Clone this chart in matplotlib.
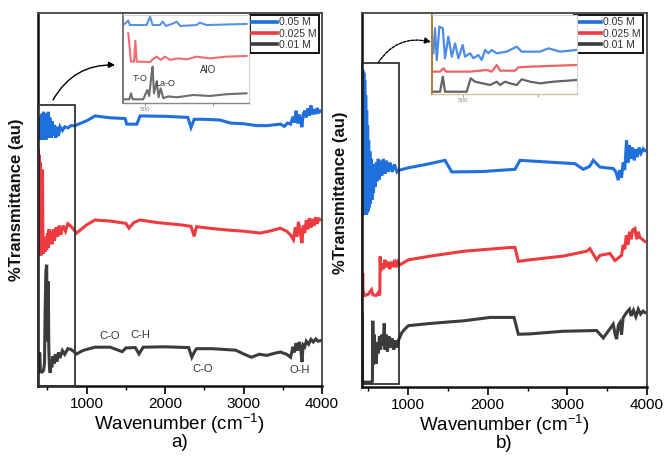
import matplotlib
matplotlib.use('Agg')
import matplotlib.pyplot as plt
from matplotlib.patches import Rectangle
from matplotlib.ticker import FixedLocator

plt.rcParams['font.family'] = ['Liberation Sans', 'DejaVu Sans']
plt.rcParams['mathtext.fontset'] = 'custom'
plt.rcParams['mathtext.rm'] = 'Liberation Sans'
plt.rcParams['mathtext.it'] = 'Liberation Sans:italic'
plt.rcParams['mathtext.bf'] = 'Liberation Sans:bold'

# ---------------- data ----------------
series_labels = ['0.05 M', '0.025 M', '0.01 M']
colors = ['#1f6fdd', '#ee3b3f', '#3c3c3c']
xticks_major = [1000, 2000, 3000, 4000]
xticks_minor = [500, 1500, 2500, 3500]
panel_letters = ['a)', 'b)']

# panel a
a_blue_x = [378, 390, 400, 410, 420, 430, 440, 450, 460, 470, 480, 490, 500, 510, 520, 530, 545, 560, 575, 590,
            605, 620, 640, 660, 690, 720, 760, 800, 850, 1000, 1106, 1300, 1490, 1510, 1640, 1680, 2000, 2290, 2330, 2370,
            2500, 2700, 2830, 3000, 3170, 3300, 3470, 3520, 3560, 3600, 3630, 3650, 3670, 3690, 3710, 3730, 3745, 3760, 3780, 3800,
            3820, 3840, 3860, 3880, 3900, 3920, 3940, 3960, 3990]
a_blue_t = [67, 72, 66, 71, 67, 73, 66, 73.5, 66.5, 73, 66, 72, 67, 73.5, 66.5, 72, 66.5, 71, 67, 70,
            66.5, 69.5, 67, 69.5, 68.5, 69.5, 69.2, 69.8, 69.8, 71.1, 72.4, 71.9, 71.7, 70.2, 70.2, 72.4, 72.3, 72.0, 69.3, 71.5,
            71.5, 71.3, 70.5, 70.3, 69.8, 69.8, 70.2, 69.6, 70.5, 70.2, 72.2, 70.6, 73.8, 70.4, 72.8, 70.5, 69.4, 72.8, 73.8, 72.0,
            74.4, 72.5, 75.2, 72.8, 74.2, 72.9, 74.5, 73.4, 73.8]
a_red_x = [378, 382, 388, 393, 398, 405, 412, 420, 430, 437, 443, 450, 460, 470, 480, 490, 500, 510, 520, 530,
           545, 560, 575, 590, 610, 630, 650, 670, 700, 730, 760, 800, 872, 1000, 1106, 1300, 1500, 1540, 1600, 1680,
           1900, 2200, 2330, 2370, 2400, 2600, 2800, 3000, 3211, 3350, 3466, 3550, 3600, 3636, 3660, 3680, 3700, 3720, 3745, 3760,
           3780, 3800, 3820, 3840, 3860, 3880, 3900, 3920, 3940, 3960, 3990]
a_red_t = [36, 63.5, 36, 62, 35.5, 60, 36, 35, 52, 58, 36, 35.5, 38, 36, 40, 36.5, 41, 37, 42, 38,
           41.5, 38, 42, 39, 42.5, 40, 43, 40.5, 43, 41.5, 43.5, 42.8, 41, 43.2, 44.5, 44.2, 43.6, 42.3, 43.8, 44.5,
           43.8, 43.2, 42.8, 40.1, 42.7, 42.2, 41.8, 41.5, 41, 41.6, 42.3, 41.5, 40.5, 39.2, 42.5, 40, 44, 41.5, 38.3, 43,
           41, 44.5, 42, 45, 42.5, 44.8, 43, 45.2, 43.5, 44.8, 44.5]
a_blk_x = [378, 390, 398, 404, 410, 420, 435, 450, 462, 470, 480, 490, 497, 503, 510, 517, 525, 535, 545, 555,
           570, 585, 600, 620, 640, 660, 690, 720, 760, 800, 872, 950, 1000, 1106, 1300, 1453, 1500, 1620, 1667, 1720,
           2000, 2300, 2340, 2370, 2400, 2600, 2900, 3000, 3100, 3200, 3300, 3400, 3470, 3550, 3600, 3630, 3650, 3670, 3690, 3710,
           3730, 3745, 3760, 3780, 3800, 3830, 3860, 3890, 3920, 3950, 3990]
a_blk_t = [3.3, 4, 9, 8.5, 3.5, 4, 3.8, 4.2, 6, 20, 31, 32.5, 12, 22, 28, 10, 5, 3.5, 7, 5,
           8, 6, 8.5, 6.5, 9, 7.5, 9.5, 8.5, 10, 9.8, 8.6, 9.5, 9.8, 10.4, 10.4, 9.2, 10.2, 10.3, 8.6, 10.4,
           10.5, 10.3, 7.7, 9, 10, 10, 9.6, 8.6, 7.7, 8.5, 8.2, 8.8, 9.1, 8.5, 7.7, 10.5, 9, 11.5, 9.5, 11.8,
           10, 6.4, 11, 10.5, 12, 11.2, 12.5, 11.8, 12.6, 12, 12.2]

# panel b
b_blue_x = [425, 428, 432, 436, 440, 445, 450, 456, 462, 468, 474, 480, 486, 492, 498, 505, 512, 520, 528, 537,
            546, 556, 566, 577, 588, 600, 612, 625, 640, 655, 670, 690, 710, 730, 750, 775, 800, 830, 860, 880,
            1000, 1200, 1464, 1548, 1924, 2342, 2405, 3095, 3200, 3280, 3325, 3409, 3576, 3610, 3639, 3660, 3680, 3700, 3720, 3743,
            3760, 3780, 3800, 3820, 3840, 3860, 3880, 3900, 3925, 3952, 3975]
b_blue_t = [46, 84.9, 46, 84.5, 46, 84, 46, 82, 46, 78, 46, 74, 46.5, 70, 47, 66, 48, 63, 49, 61,
            50, 58, 52, 59.5, 53.5, 60, 55, 61, 55.5, 60.5, 56.5, 61, 57, 60.5, 57.5, 60, 57.5, 59.5, 57.5, 57.9,
            58.6, 59.4, 60.6, 57.5, 57.6, 58.2, 60.6, 59.7, 58.2, 59, 60.6, 58.8, 58.4, 57.5, 55.3, 58, 56, 60, 58, 65.9,
            60, 64.6, 61, 64, 60.6, 63.5, 61.5, 64, 62.5, 63.7, 63.2]
b_red_x = [425, 430, 436, 445, 460, 500, 540, 560, 600, 625, 645, 649, 655, 670, 690, 710, 730, 750, 770, 790,
           810, 830, 850, 870, 900, 1004, 1283, 1701, 2280, 2342, 2384, 2530, 2948, 3242, 3283, 3367, 3409, 3535, 3597, 3681,
           3700, 3720, 3740, 3760, 3780, 3800, 3820, 3848, 3870, 3890, 3910, 3940, 3974]
b_red_t = [24.5, 30.5, 24.3, 25, 24.5, 24.8, 26, 24.6, 24.5, 25.2, 24.5, 34.9, 31, 33, 31.5, 34, 32, 33.5, 31.5, 33,
           32.5, 34, 32, 33.5, 32.7, 34, 35, 36.3, 37.3, 37.3, 33.6, 34, 35, 36.3, 37, 34, 35.2, 35.7, 33.8, 35.2,
           38, 36.8, 40.5, 38, 41.5, 39.5, 42, 42.4, 39.5, 41.5, 40, 39.5, 38.9]
b_blk_x = [425, 428, 440, 470, 500, 540, 552, 557, 565, 575, 590, 600, 612, 625, 640, 655, 670, 690, 700, 710,
           725, 740, 760, 780, 800, 820, 840, 860, 878, 920, 960, 1004, 1283, 1701, 2030, 2330, 2350, 2384, 2530, 2948,
           3367, 3451, 3576, 3600, 3618, 3640, 3660, 3680, 3700, 3743, 3780, 3800, 3830, 3860, 3890, 3920, 3950, 3974]
b_blk_t = [19.4, 1.3, 1.3, 1.3, 1.3, 1.3, 1.5, 17.7, 6, 14, 8, 6.2, 12, 9, 13.5, 10, 14, 11, 17, 10,
           14, 9.5, 13.5, 10.5, 13, 10, 12.5, 10.5, 12.4, 14.5, 15.5, 16.4, 17, 17.7, 18.6, 18.6, 17, 14.1, 14.2, 14.9,
           15.1, 13.1, 16.8, 14, 12.8, 16.5, 17.2, 14, 18.5, 19.9, 20.8, 19, 20.5, 18.8, 20.8, 19.5, 20.3, 19.9]

# inset a
ia_blue_x = [340, 377, 389, 512, 537, 556, 610, 630, 655, 708, 733, 760, 880, 904, 953, 1247]
ia_blue_t = [88.6, 93.6, 88.6, 88.6, 98, 88.6, 88.6, 92.4, 87.5, 90.5, 92.4, 87.5, 88.6, 91.3, 88.6, 89.8]
ia_red_x = [377, 389, 397, 419, 429, 439, 537, 556, 586, 615, 647, 684, 745, 806, 880, 978, 1100, 1247]
ia_red_t = [79.2, 60, 47, 47, 70.8, 47, 46.5, 49.6, 52.7, 49, 52.7, 49, 50.7, 49.6, 52.7, 50.7, 52.7, 53.4]
ia_blk_x = [340, 384, 397, 409, 487, 517, 531, 549, 556, 566, 586, 600, 615, 635, 672, 733, 855, 978, 1100, 1247]
ia_blk_t = [4.2, 4.2, 11, 4.2, 4.2, 14.8, 8, 33.7, 41.3, 11, 24.2, 6.5, 16.7, 5.5, 7.5, 6.5, 9.1, 8, 10, 11]

# inset b
ib_blue_x = [302, 313, 325, 342, 365, 380, 402, 425, 447, 469, 498, 513, 547, 569, 602, 625, 647, 669, 691, 725,
             791, 858, 891, 1013, 1069, 1147, 1258]
ib_blue_t = [51.5, 83.1, 43.0, 85.2, 83.1, 45.2, 72.6, 47.3, 64.1, 45.2, 62.0, 47.3, 51.5, 45.2, 49.4, 43.0, 55.7,
             51.5, 55.7, 51.5, 53.6, 59.9, 53.6, 53.6, 57.8, 53.6, 55.7]
ib_red_x = [302, 347, 369, 387, 547, 658, 691, 725, 747, 847, 869, 947, 1258]
ib_red_t = [28.3, 28.3, 32.5, 28.3, 28.3, 30.4, 28.3, 36.7, 29.5, 29.5, 33.8, 34.6, 36.7]
ib_blk_x = [302, 347, 365, 380, 524, 551, 580, 680, 725, 747, 780, 813, 858, 891, 947, 1013, 1102, 1258]
ib_blk_t = [2.9, 2.9, 21.9, 2.9, 2.9, 19.8, 15.6, 11.4, 15.6, 11.4, 15.6, 13.5, 11.4, 18.6, 15.6, 13.5, 15.6, 17.7]

# band labels (panel a)
band_labels = ['C-O', 'C-H', 'C-O', 'O-H']
band_x = [1297, 1689, 2483, 3721]
band_y = [13.3, 13.8, 4.5, 4.3]
inset_a_labels = ['T-O', 'La-O', 'AlO']
inset_a_x = [463, 647, 967]
inset_a_y = [28.4, 21.6, 37.5]

# ---------------- figure ----------------
fig = plt.figure(figsize=(6.68, 4.57), dpi=100)
axA = fig.add_axes([0.0564, 0.1554, 0.4256, 0.8162])
axB = fig.add_axes([0.542, 0.1532, 0.4266, 0.8184])


def style_main(ax, xlim, letter):
    ax.set_xlim(*xlim)
    ax.set_ylim(0, 100)
    ax.set_yticks([])
    ax.xaxis.set_major_locator(FixedLocator(xticks_major))
    ax.xaxis.set_minor_locator(FixedLocator(xticks_minor))
    ax.set_xticklabels([str(v) for v in xticks_major])
    ax.tick_params(axis='x', which='major', direction='out', length=6, width=1.2, labelsize=11, pad=2)
    ax.tick_params(axis='x', which='minor', direction='out', length=3, width=1.0)
    for s in ['left', 'bottom']:
        ax.spines[s].set_linewidth(1.8)
        ax.spines[s].set_color('#111111')
    for s in ['top', 'right']:
        ax.spines[s].set_linewidth(1.3)
        ax.spines[s].set_color('#444444')
    ax.set_xlabel('Wavenumber (cm$^{\\mathregular{-1}}$)\n' + letter, fontsize=13.5, labelpad=0.5,
                  linespacing=0.85)


def style_inset(ax, xlim, left_color, bottom_color):
    ax.set_xlim(*xlim)
    ax.set_ylim(0, 100)
    ax.set_yticks([])
    ax.set_xticks([500, 1000])
    ax.set_xticklabels(['500', ''])
    ax.tick_params(axis='x', length=2, width=0.6, labelsize=4.5, pad=1, colors='#888888')
    for s in ['top', 'right']:
        ax.spines[s].set_color('#d0d0d0')
        ax.spines[s].set_linewidth(0.8)
    ax.spines['left'].set_color(left_color)
    ax.spines['left'].set_linewidth(1.4)
    ax.spines['bottom'].set_color(bottom_color)
    ax.spines['bottom'].set_linewidth(1.0)


style_main(axA, (375, 4000), panel_letters[0])
style_main(axB, (422, 4000), panel_letters[1])

for xs, ys, c, lab in zip([a_blue_x, a_red_x, a_blk_x], [a_blue_t, a_red_t, a_blk_t], colors, series_labels):
    axA.plot(xs, ys, color=c, lw=2.2, label=lab, solid_joinstyle='miter')
for xs, ys, c, lab in zip([b_blue_x, b_red_x, b_blk_x], [b_blue_t, b_red_t, b_blk_t], colors, series_labels):
    axB.plot(xs, ys, color=c, lw=2.2, label=lab, solid_joinstyle='miter')

for ax, anchor in [(axA, (0.99, 0.995)), (axB, (0.986, 0.995))]:
    leg = ax.legend(loc='upper right', bbox_to_anchor=anchor, borderaxespad=0, frameon=True,
                    fancybox=False, edgecolor='black', framealpha=1, fontsize=7.5,
                    handlelength=2.4, handletextpad=0.15, borderpad=0.25, labelspacing=0.12)
    leg.get_frame().set_linewidth(1.3)
    for t in leg.get_texts():
        t.set_color('#333333')
    for h in leg.legend_handles:
        h.set_linewidth(2.6)

# rectangles
axA.add_patch(Rectangle((375, 0), 851 - 375, 75.3, fill=False, ec='#333333', lw=1.3, clip_on=False, zorder=5))
axB.add_patch(Rectangle((422, 0.8), 887 - 422, 86.7 - 0.8, fill=False, ec='#222222', lw=1.2, clip_on=False, zorder=5))

# band labels
for lab, x, y in zip(band_labels, band_x, band_y):
    axA.text(x, y, lab, fontsize=8, color='#333333', ha='center', va='center')

# insets
insA = fig.add_axes([0.1841, 0.7746, 0.1886, 0.1926])
style_inset(insA, (338, 1265), '#777777', '#888888')
for xs, ys, c in zip([ia_blue_x, ia_red_x, ia_blk_x], [ia_blue_t, ia_red_t, ia_blk_t], colors):
    insA.plot(xs, ys, color=c, lw=1.5, alpha=0.75)
for lab, x, y in zip(inset_a_labels, inset_a_x, inset_a_y):
    insA.text(x, y, lab, fontsize=7 if lab == 'AlO' else 6.5, color='#333333', ha='center', va='center')

insB = fig.add_axes([0.6467, 0.7943, 0.2171, 0.1729])
style_inset(insB, (293, 1260), '#b07a30', '#dcc0a0')
for xs, ys, c in zip([ib_blue_x, ib_red_x, ib_blk_x], [ib_blue_t, ib_red_t, ib_blk_t], colors):
    insB.plot(xs, ys, color=c, lw=1.6, alpha=0.8)

# arrows
axA.annotate('', xy=(115, 392), xycoords='figure pixels', xytext=(53, 357), textcoords='figure pixels',
             arrowprops=dict(arrowstyle='-|>', connectionstyle='arc3,rad=-0.3', color='black', lw=1.0,
                             mutation_scale=9, shrinkA=0, shrinkB=0))
axB.annotate('', xy=(431, 415), xycoords='figure pixels', xytext=(378, 394), textcoords='figure pixels',
             arrowprops=dict(arrowstyle='-|>', connectionstyle='arc3,rad=-0.35', color='black', lw=1.0,
                             linestyle=(0, (2, 1)), mutation_scale=9, shrinkA=0, shrinkB=0))

# y labels
fig.text(17 / 668, 1 - 200 / 457, '%Transmittance (au)', rotation=90, fontsize=12, fontweight='bold',
         ha='center', va='center', color='#111111')
fig.text(341 / 668, 1 - 193 / 457, '%Transmittance (au)', rotation=90, fontsize=12, fontweight='bold',
         ha='center', va='center', color='#111111')

fig.savefig('out.png', dpi=100)
